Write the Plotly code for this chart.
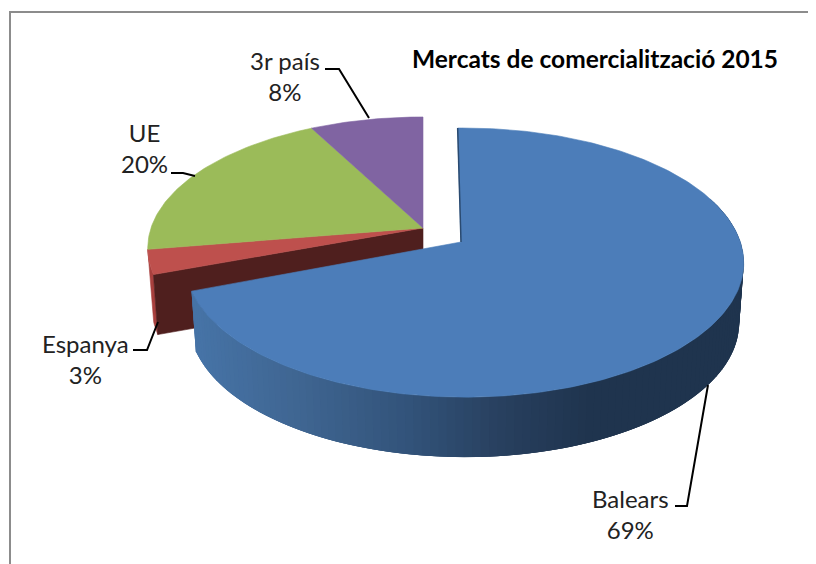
import math
import plotly.graph_objects as go

# Data (shares; labels show rounded percentages)
categories = ["Balears", "Espanya", "UE", "3r país"]
values = [69.4, 3.0, 19.9, 7.7]
colors = ["#4C7DB9", "#BE504D", "#9BBB59", "#8064A2"]
title_text = "Mercats de comercialització 2015"

W, H = 816, 564
PAGE_MARGIN = 8  # the page body keeps its default margin
P = 0.153
DEPTH = 60
BOTTOM_X = 0.984
BLUE = dict(cx=461, cy=242, rx=276, ry=131.4, q=-0.012, start=-0.8)
REST = dict(cx=423, cy=228, rx=272, ry=128, q=0.0)


def project(g, deg, r=1.0):
    t = math.radians(deg)
    u, v = r * math.sin(t), r * math.cos(t)
    k = 1 + P * v + g["q"] * u
    return g["cx"] + g["rx"] * u / k, g["cy"] - g["ry"] * v / k


def drop(g, pt):
    return g["cx"] + (pt[0] - g["cx"]) * BOTTOM_X, pt[1] + DEPTH


def arc(g, a, b, step=1.0):
    n = max(2, int(abs(b - a) / step))
    return [project(g, a + (b - a) * i / n) for i in range(n + 1)]


def hex2rgb(h):
    return tuple(int(h[i:i + 2], 16) for i in (1, 3, 5))


rim_stops = [(197, "#4673A6"), (300, "#3F6591"), (408, "#32537A"),
             (500, "#28405F"), (590, "#1F344E"), (760, "#1F344E")]


def rim_color(x):
    for (x0, c0), (x1, c1) in zip(rim_stops, rim_stops[1:]):
        if x <= x1:
            f = max(0, (x - x0) / (x1 - x0))
            a, b = hex2rgb(c0), hex2rgb(c1)
            return "rgb(%d,%d,%d)" % tuple(round(p + (q - p) * f) for p, q in zip(a, b))
    return rim_stops[-1][1]


fig = go.Figure()


def poly(pts, color, lw=0.6):
    fig.add_trace(go.Scatter(
        x=[p[0] for p in pts] + [pts[0][0]], y=[p[1] for p in pts] + [pts[0][1]],
        mode="lines", fill="toself", fillcolor=color,
        line=dict(color=color, width=lw), hoverinfo="skip", showlegend=False))


total = sum(values)
spans = [v / total * 360 for v in values]
blue_start = BLUE["start"]
blue_end = blue_start + spans[0]
back_start = 360 * values[0] / total
a_red = (back_start, back_start + spans[1])
a_green = (a_red[1], a_red[1] + spans[2])
a_purple = (a_green[1], 360.0)

# rear group: red rim, wall, faces
r0 = arc(REST, *a_red)
poly(r0 + [drop(REST, p) for p in reversed(r0)], "#A8403E")
rim_pt = project(REST, a_red[0])
apex = (REST["cx"], REST["cy"])
poly([apex, rim_pt, drop(REST, rim_pt), drop(REST, apex)], "#4F1F1E")
for (a, b), c in zip((a_red, a_green, a_purple), colors[1:]):
    poly([apex] + arc(REST, a, b), c)

# Balears: side wall strips (each overlaps the next so no seams show), then top face
a = 70.0
while a < blue_end:
    b = min(a + 1.5, blue_end)
    p, q = project(BLUE, a), project(BLUE, b)
    far = project(BLUE, min(b + 3.0, blue_end))
    poly([p, far, drop(BLUE, far), drop(BLUE, p)], rim_color((p[0] + q[0]) / 2), lw=0)
    a = b
apex_b = (BLUE["cx"], BLUE["cy"])
poly([apex_b] + arc(BLUE, blue_start, blue_end), colors[0])
top_pt = project(BLUE, blue_start)
fig.add_trace(go.Scatter(x=[top_pt[0], apex_b[0]], y=[top_pt[1], apex_b[1]], mode="lines",
                         line=dict(color="#2A4A70", width=1.5), hoverinfo="skip", showlegend=False))

labels = [f"{c}<br>{round(v)}%" for c, v in zip(categories, values)]
label_pos = [(630, 514), (85, 359), (144, 148), (285, 76)]
leaders = [
    [(708, 385), (687, 506), (675, 506)],
    [(158, 322), (147, 350), (133, 350)],
    [(195, 176), (183, 173), (171, 173)],
    [(369, 118), (339, 69), (325, 69)],
]
annotations = [dict(x=x, y=y, xref="x", yref="y", text=t, showarrow=False, align="center",
                    font=dict(family="Lato", size=24, color="#222222"))
               for (x, y), t in zip(label_pos, labels)]
annotations.append(dict(x=595, y=58, xref="x", yref="y", text=f"<b>{title_text}</b>", showarrow=False,
                        font=dict(family="Lato", size=24.5, color="#000000")))
for pts in leaders:
    fig.add_trace(go.Scatter(x=[p[0] for p in pts], y=[p[1] for p in pts], mode="lines",
                             line=dict(color="#000000", width=2), hoverinfo="skip", showlegend=False))

shapes = [dict(type="path", path=f"M 10 {H + 20} L 10 12 L {W + 20} 12", xref="x", yref="y",
               line=dict(color="#8C8C8C", width=2), layer="below")]

fig.update_layout(
    width=W, height=H, margin=dict(l=0, r=0, t=0, b=0),
    paper_bgcolor="white", plot_bgcolor="white", showlegend=False,
    xaxis=dict(range=[PAGE_MARGIN, W + PAGE_MARGIN], visible=False, fixedrange=True),
    yaxis=dict(range=[H + PAGE_MARGIN, PAGE_MARGIN], visible=False, fixedrange=True),
    annotations=annotations, shapes=shapes,
)
fig.write_html("out.html", config=dict(displayModeBar=False))
